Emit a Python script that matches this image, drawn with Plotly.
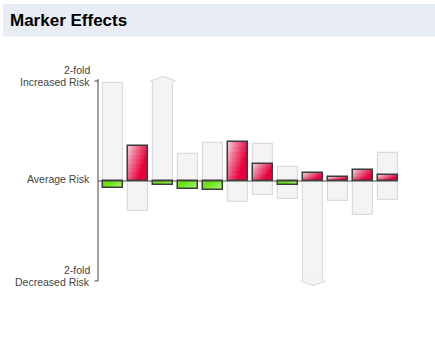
import plotly.graph_objects as go

# ---- data (log2 fold-change of risk; +1 = 2-fold increased, -1 = 2-fold decreased)
markers = ["M1", "M2", "M3", "M4", "M5", "M6", "M7", "M8", "M9", "M10", "M11", "M12"]
effect = [-0.07, 0.35, -0.035, -0.08, -0.085, 0.39, 0.17, -0.04, 0.08, 0.04, 0.11, 0.06]
range_low = [-0.07, -0.30, -0.035, -0.08, -0.085, -0.21, -0.14, -0.18, -1.40, -0.20, -0.34, -0.19]
range_high = [0.98, 0.35, 1.50, 0.275, 0.38, 0.39, 0.37, 0.14, 0.08, 0.04, 0.11, 0.28]
tick_vals = [1, 0, -1]
tick_text = [["2-fold", "Increased Risk"], ["Average Risk"], ["2-fold", "Decreased Risk"]]
title_text = "Marker Effects"

# ---- layout geometry
W, H = 435, 353
ML, MR, MT, MB = 98, 37, 71, 62
PW, PH = W - ML - MR, H - MT - MB
LIM = 1.0
BW = 0.8


def px_x(px):
    return (px - ML) / PW


def px_y(py):
    return (MT + PH - py) / PH


x = list(range(len(markers)))
fig = go.Figure()

# grey range bars (clipped to axis limits)
lo_c = [max(v, -LIM) for v in range_low]
hi_c = [min(v, LIM) for v in range_high]
fig.add_trace(go.Bar(
    x=x, base=lo_c, y=[h - l for h, l in zip(hi_c, lo_c)], width=BW,
    marker=dict(color="#f4f4f4", line=dict(color="#dcdcdc", width=1.2)),
    hoverinfo="skip", showlegend=False))

# overflow arrows
AH, AW = 0.045, 0.5
for i in x:
    for over, lim, sgn in ((range_high[i] > LIM, LIM, 1), (range_low[i] < -LIM, -LIM, -1)):
        if not over:
            continue
        fig.add_trace(go.Scatter(
            x=[i - AW, i, i + AW, i + BW / 2 - 0.02, i - BW / 2 + 0.02],
            y=[lim, lim + sgn * AH, lim, lim - sgn * 0.015, lim - sgn * 0.015],
            mode="none", fill="toself", fillcolor="#f4f4f4",
            hoverinfo="skip", showlegend=False))
        fig.add_trace(go.Scatter(
            x=[i - BW / 2, i - AW, i, i + AW, i + BW / 2],
            y=[lim, lim, lim + sgn * AH, lim, lim],
            mode="lines", line=dict(color="#dcdcdc", width=1.2),
            hoverinfo="skip", showlegend=False))

# gradient-filled effect bars (painted in overlapping layers)
RED_L, RED_D = (243, 214, 222), (232, 0, 60)
GRN_L, GRN_D = (190, 246, 150), (104, 228, 18)
NU, NV = 10, 8


def mix(a, b, t):
    return "rgb(%d,%d,%d)" % tuple(round(a[k] + (b[k] - a[k]) * t) for k in range(3))


for ku in range(NU):
    u = (ku + 0.5) / NU
    off = -BW / 2 + ku * BW / NU
    for kv in range(NV):
        frac = (NV - kv) / NV           # this layer spans from zero to frac*value
        v = (kv + 0.5) / NV             # 0 = tip side, 1 = zero-line side
        cols = []
        for e in effect:
            if e >= 0:
                t = min(1.0, 0.9 * u + 0.55 * v) ** 0.9
                cols.append(mix(RED_L, RED_D, t))
            else:
                # pattern rotated 180 deg for negative bars
                uu, vv = 1 - u, v
                t = min(1.0, 0.9 * uu + 0.55 * vv) ** 0.9
                cols.append(mix(GRN_L, GRN_D, t))
        fig.add_trace(go.Bar(
            x=x, base=[0] * len(effect), y=[e * frac for e in effect],
            width=BW - ku * BW / NU, offset=off,
            marker=dict(color=cols, line=dict(width=0)),
            hoverinfo="skip", showlegend=False))

# outline of effect bars
fig.add_trace(go.Bar(
    x=x, base=[0] * len(effect), y=effect, width=BW,
    marker=dict(color="rgba(0,0,0,0)", line=dict(color="#3c3c3c", width=1.5)),
    hovertext=markers, hoverinfo="text", showlegend=False))

shapes = [
    # title bar
    dict(type="rect", xref="paper", yref="paper", x0=px_x(3), x1=px_x(436),
         y0=px_y(36.5), y1=px_y(4), fillcolor="#e8ecf5", line=dict(width=0), layer="below"),
    # zero line
    dict(type="line", xref="paper", yref="y", x0=0, x1=1, y0=0, y1=0,
         line=dict(color="#444444", width=1), layer="above"),
    # vertical axis line
    dict(type="line", xref="paper", yref="y", x0=0, x1=0, y0=-LIM, y1=LIM + 0.02,
         line=dict(color="#444444", width=1)),
]
for tv in (tick_vals[0], tick_vals[2]):
    shapes.append(dict(type="line", xref="paper", yref="y", x0=px_x(94.5), x1=0,
                       y0=tv, y1=tv, line=dict(color="#444444", width=1)))

annotations = [dict(text="<b>%s</b>" % title_text, xref="paper", yref="paper",
                    x=px_x(10), y=px_y(20.5), xanchor="left", yanchor="middle",
                    showarrow=False, borderpad=0, borderwidth=0,
                    font=dict(family="Liberation Sans, Arial, sans-serif", size=17, color="#000000"))]
for tv, lines in zip(tick_vals, tick_text):
    shifts = [2] if len(lines) == 1 else [11, -0.5]
    for line, sh in zip(lines, shifts):
        annotations.append(dict(text=line, xref="paper", yref="y", x=px_x(89.5), y=tv,
                                xanchor="right", yanchor="middle", yshift=sh,
                                showarrow=False, borderpad=0, borderwidth=0,
                                font=dict(family="Liberation Sans, Arial, sans-serif",
                                          size=10.5, color="#444444")))

fig.update_layout(
    width=W, height=H, margin=dict(l=ML, r=MR, t=MT, b=MB, pad=0),
    paper_bgcolor="white", plot_bgcolor="white",
    barmode="overlay", bargap=0,
    xaxis=dict(range=[-0.6, len(markers) - 0.6], visible=False, fixedrange=True),
    yaxis=dict(range=[-1.1, 1.1], visible=False, fixedrange=True),
    shapes=shapes, annotations=annotations, showlegend=False,
)
fig.write_html("out.html", config={"displayModeBar": False})
